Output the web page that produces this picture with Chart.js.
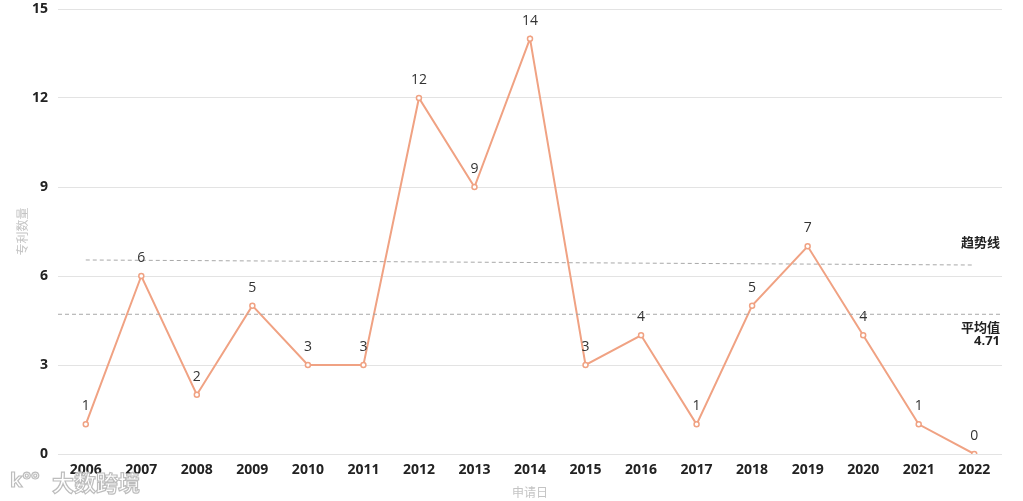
<!DOCTYPE html>
<html>
<head>
<meta charset="utf-8">
<script src="https://cdn.jsdelivr.net/npm/chart.js@4.4.0/dist/chart.umd.min.js"></script>
<style>
  html, body { margin: 0; padding: 0; background: #fff; overflow: hidden; }
  #wrap { width: 1023px; height: 501px; position: relative; }
</style>
</head>
<body>
<div id="wrap"><canvas id="c" width="1023" height="501"></canvas></div>
<script>
// ---- datos ----
const years = ["2006","2007","2008","2009","2010","2011","2012","2013","2014","2015","2016","2017","2018","2019","2020","2021","2022"];
const patents = [1, 6, 2, 5, 3, 3, 12, 9, 14, 3, 4, 1, 5, 7, 4, 1, 0];
const trendLine = [6.54, null, null, null, null, null, null, null, null, null, null, null, null, null, null, null, 6.37];
const avgValue = 4.71;
const yTicks = [0, 3, 6, 9, 12, 15];

const lineColor = "#f0a283";
const numFont = "'Open Sans', 'Noto Sans CJK SC', sans-serif";
const cjkFont = "'Noto Sans CJK SC', sans-serif";

// plugin: average line, labels, titles, watermark
const extras = {
  id: "extras",
  afterDatasetsDraw(chart) {
    const { ctx, chartArea: a, scales: { x, y } } = chart;
    ctx.save();

    // average dashed line across full area
    const ay = y.getPixelForValue(avgValue);
    ctx.strokeStyle = "#a8a8a8";
    ctx.lineWidth = 1;
    ctx.setLineDash([4, 3]);
    ctx.beginPath();
    ctx.moveTo(a.left, ay);
    ctx.lineTo(a.right, ay);
    ctx.stroke();
    ctx.setLineDash([]);

    // data labels
    const meta = chart.getDatasetMeta(0);
    ctx.fillStyle = "#333";
    ctx.font = "14px " + numFont;
    ctx.textAlign = "center";
    ctx.textBaseline = "middle";
    meta.data.forEach((p, i) => {
      ctx.fillText(String(patents[i]), p.x, p.y - 18);
    });

    // right labels
    ctx.font = "bold 13px " + cjkFont;
    ctx.textAlign = "right";
    ctx.fillStyle = "#222";
    const ty = y.getPixelForValue(trendLine[0]);
    ctx.fillText("趋势线", a.right - 2, ty - 18);
    ctx.fillText("平均值", a.right - 2, ay + 13);
    ctx.font = "bold 13px " + numFont;
    ctx.fillText(avgValue.toFixed(2), a.right - 2, ay + 27);

    // axis titles
    ctx.fillStyle = "#c4c4c4";
    ctx.font = "12px " + cjkFont;
    ctx.textAlign = "center";
    ctx.fillText("申请日", (a.left + a.right) / 2, 492);
    ctx.save();
    ctx.translate(22, (a.top + a.bottom) / 2);
    ctx.rotate(-Math.PI / 2);
    ctx.fillText("专利数量", 0, 0);
    ctx.restore();

    // watermark
    ctx.font = "bold 22px " + cjkFont;
    ctx.textAlign = "left";
    ctx.lineWidth = 1.2;
    ctx.strokeStyle = "#bdbdbd";
    ctx.fillStyle = "rgba(255,255,255,0.85)";
    ctx.fillText("大数跨境", 52, 483);
    ctx.strokeText("大数跨境", 52, 483);
    ctx.font = "bold 20px " + numFont;
    ctx.fillText("k°°", 10, 481);
    ctx.strokeText("k°°", 10, 481);

    ctx.restore();
  }
};

new Chart(document.getElementById("c"), {
  type: "line",
  data: {
    labels: years,
    datasets: [{
      data: patents,
      borderColor: lineColor,
      borderWidth: 2,
      pointRadius: 2.5,
      pointBorderWidth: 1.5,
      pointBackgroundColor: "#fff",
      pointBorderColor: lineColor,
      tension: 0
    }, {
      data: trendLine,
      spanGaps: true,
      borderColor: "#a8a8a8",
      borderWidth: 1,
      borderDash: [4, 3],
      pointRadius: 0,
      tension: 0
    }]
  },
  options: {
    responsive: false,
    animation: false,
    devicePixelRatio: 1,
    layout: { padding: { top: 9, right: 21, left: 0, bottom: 0 } },
    plugins: { legend: { display: false }, tooltip: { enabled: false } },
    scales: {
      x: {
        offset: true,
        grid: { display: false },
        border: { display: false },
        ticks: { color: "#222", font: { size: 14, weight: "bold", family: numFont }, padding: 0, maxRotation: 0, autoSkip: false },
        afterFit(s) { s.height = 47; }
      },
      y: {
        min: 0, max: 15,
        afterBuildTicks(s) { s.ticks = yTicks.map(v => ({ value: v })); },
        grid: { color: "#e3e3e3", drawTicks: false },
        border: { display: false },
        ticks: { color: "#222", font: { size: 14, weight: "bold", family: numFont }, padding: 10 },
        afterFit(s) { s.width = 58; s.paddingTop = 0; s.paddingBottom = 0; }
      }
    }
  },
  plugins: [extras]
});
</script>
</body>
</html>
